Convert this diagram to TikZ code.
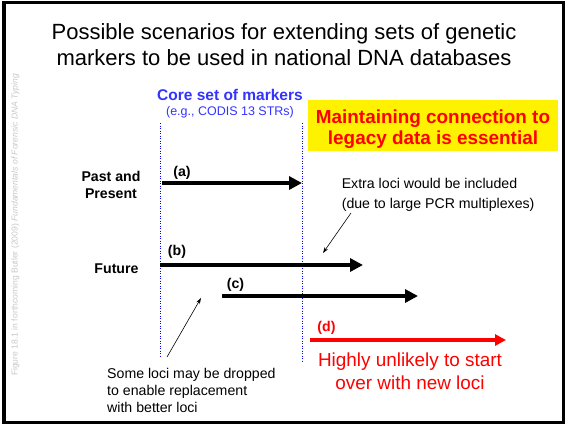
\documentclass[tikz,border=0pt]{standalone}
\usepackage{fontspec}
\setmainfont{Liberation Sans}
\usetikzlibrary{arrows,arrows.meta}

\definecolor{coreblue}{RGB}{51,51,255}
\definecolor{sidegray}{RGB}{200,200,200}

\begin{document}
\begin{tikzpicture}[x=1pt, y=-1pt, >=stealth]
			\tikzstyle{scenlabel} = [font=\fontsize{14.15}{17}\selectfont\bfseries, inner sep=0pt]
			\tikzstyle{remark} = [font=\fontsize{14.15}{20}\selectfont, align=left, inner sep=0pt]
			\tikzstyle{coreline} = [blue, line width=1pt, dash pattern=on 1pt off 1.5pt]
			\tikzstyle{scenario} = [line width=4.5pt, -{Triangle[length=13pt,width=13pt]}]
			\tikzstyle{pointer} = [line width=0.6pt, -{Stealth[length=6pt,width=4pt]}]

			\useasboundingbox (0,0) rectangle (566,424);
			\draw[line width=3.5pt] (4,2.5) rectangle (563.5,422.5);

			% core set boundaries
			\draw[coreline] (160,123) -- (160,357);
			\draw[coreline] (302,123) -- (302,363);
			\fill[yellow] (308,100) rectangle (558,151);

			\begin{scope}
			\path
			node[font=\fontsize{22}{26}\selectfont, align=center, inner sep=0pt] (title) at (284,45)
				{Possible scenarios for extending sets of genetic\\markers to be used in national DNA databases}
			node[sidegray, rotate=90, font=\fontsize{8.6}{10}\selectfont, inner sep=0pt] (side) at (15.5,225)
				{Figure 18.1 in forthcoming Butler (2009) \textit{Fundamentals of Forensic DNA Typing}}
			node[coreblue, font=\fontsize{15.5}{18}\selectfont\bfseries, inner sep=0pt] (core) at (230,95) {Core set of markers}
			node[coreblue, font=\fontsize{12.5}{15}\selectfont, inner sep=0pt] (codis) at (230,112) {(e.g., CODIS 13 STRs)}
			node[red, font=\fontsize{18.9}{21}\selectfont\bfseries, align=center, inner sep=0pt] (legacy) at (433,129.4)
				{Maintaining connection to\\legacy data is essential}

			node[scenlabel, align=center] (past) at (111,185.4) {Past and\\Present}
			node[scenlabel] (future) at (116.5,269) {Future}
			node[scenlabel] (lblA) at (182,173) {(a)}
			node[scenlabel] (lblB) at (177,252) {(b)}
			node[scenlabel] (lblC) at (235.5,285) {(c)}
			node[scenlabel, red] (lblD) at (326.5,328) {(d)}

			node[remark, anchor=west] (extra) at (341.6,195.3)
				{Extra loci would be included\\(due to large PCR multiplexes)}
			node[remark, anchor=west, font=\fontsize{14.15}{17}\selectfont] (dropped) at (107,390)
				{Some loci may be dropped\\to enable replacement\\with better loci}
			node[red, font=\fontsize{18.9}{23}\selectfont, align=center, inner sep=0pt] (unlikely) at (410,371.4)
				{Highly unlikely to start\\over with new loci}
			;

			\coordinate (a0) at (162,183);
			\coordinate (a1) at (302,183);
			\coordinate (b0) at (160,265);
			\coordinate (b1) at (363,265);
			\coordinate (c0) at (222,296);
			\coordinate (c1) at (418,296);
			\coordinate (d0) at (310,340);
			\coordinate (d1) at (506,340);
			\coordinate (extraTail) at (351,213);
			\coordinate (extraTip) at (323,253);
			\coordinate (dropTail) at (167,357);
			\coordinate (dropTip) at (201,298);

			\path
			(a0) edge[scenario] (a1)
			(b0) edge[scenario] (b1)
			(c0) edge[scenario] (c1)
			(d0) edge[scenario, red, line width=3.5pt, -{Triangle[length=11pt,width=11pt]}] (d1)
			(extraTail) edge[pointer] (extraTip)
			(dropTail) edge[pointer] (dropTip)
			;
			\end{scope}

\end{tikzpicture}
\end{document}
